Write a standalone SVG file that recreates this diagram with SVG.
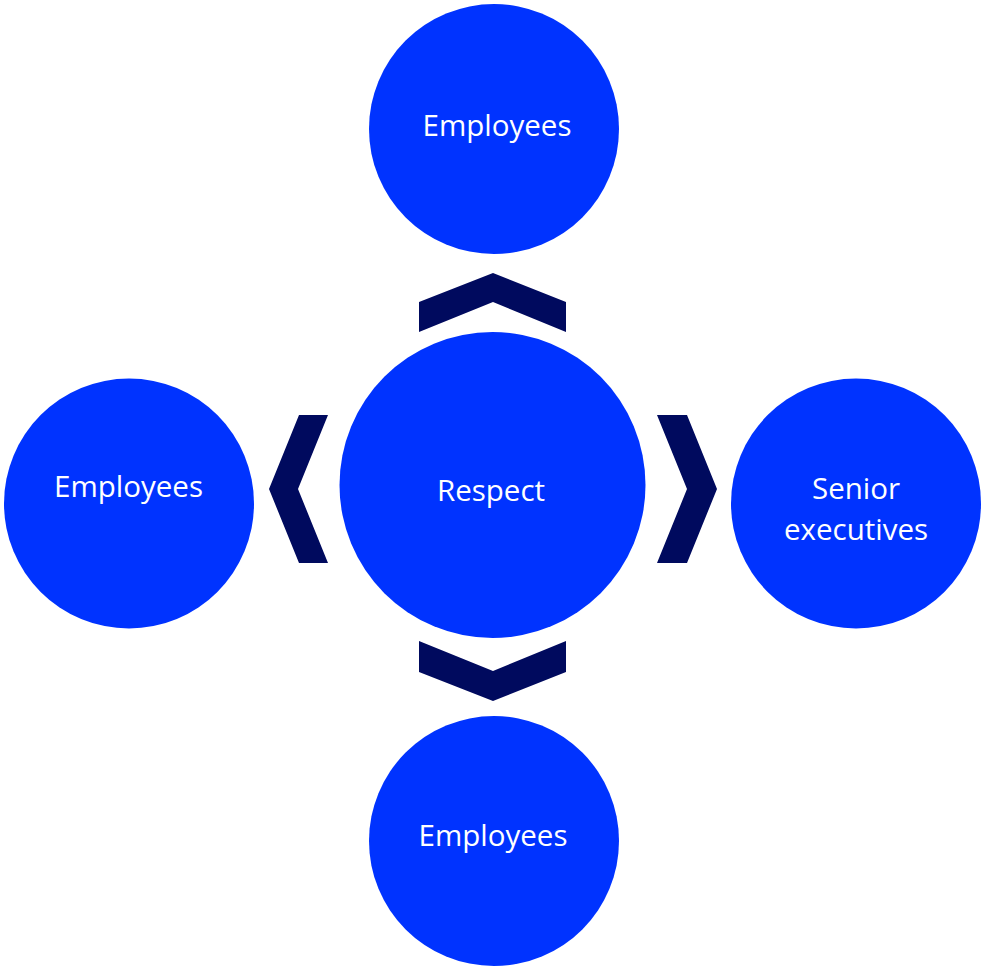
<svg xmlns="http://www.w3.org/2000/svg" width="981" height="967" viewBox="0 0 981 967">
<style>
.node circle{fill:#0033ff}
.node text{fill:#ffffff;font-family:"Open Sans","Noto Sans",sans-serif;font-size:29.5px;text-anchor:middle}
.chev{fill:#000a5e}
</style>
<rect width="981" height="967" fill="#ffffff"/>
<g id="connectors">
<polygon class="chev" points="419,302 493,273 566,302 566,332 493,302 419,332"/>
<polygon class="chev" points="657,415 687,415 717,489 687,563 657,563 687,489"/>
<polygon class="chev" points="419,641 493,671 566,641 566,672 493,701 419,672"/>
<polygon class="chev" points="328,415 299,415 269,489 299,563 328,563 298,489"/>
</g>
<g id="node-top" class="node">
<circle cx="494" cy="129" r="125"/>
<text x="497" y="136">Employees</text>
</g>
<g id="node-center" class="node">
<circle cx="492.5" cy="485" r="153"/>
<text x="491" y="501">Respect</text>
</g>
<g id="node-left" class="node">
<circle cx="129" cy="503.5" r="125"/>
<text x="128.5" y="497">Employees</text>
</g>
<g id="node-right" class="node">
<circle cx="856" cy="503.5" r="125"/>
<text x="856" y="499">Senior</text>
<text x="856" y="540">executives</text>
</g>
<g id="node-bottom" class="node">
<circle cx="494" cy="841" r="125"/>
<text x="493" y="846">Employees</text>
</g>
</svg>
